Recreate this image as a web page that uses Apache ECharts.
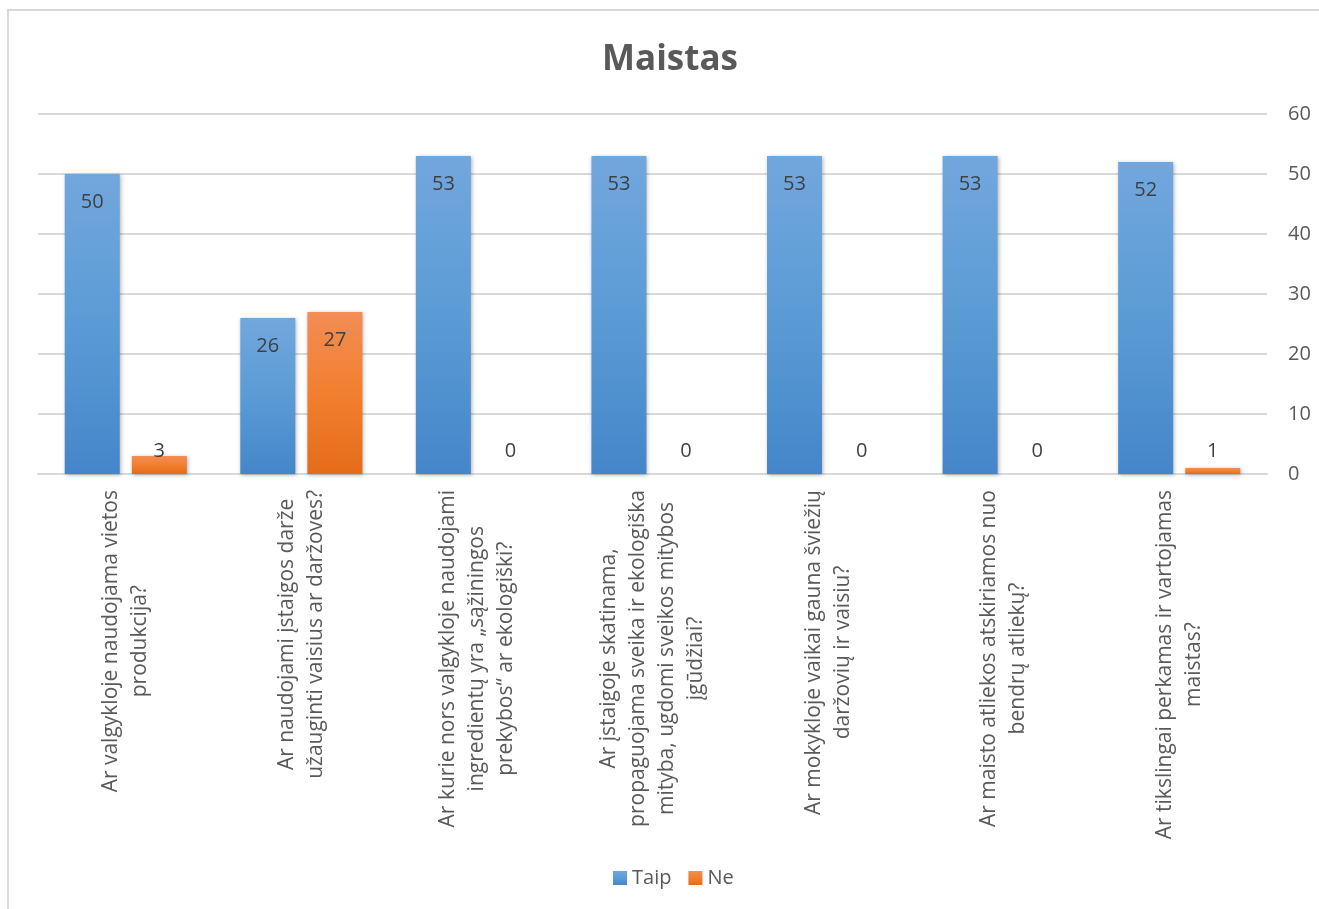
<!DOCTYPE html>
<html>
<head>
<meta charset="utf-8">
<script src="https://cdn.jsdelivr.net/npm/echarts@6/dist/echarts.min.js"></script>
<style>
  html, body { margin: 0; padding: 0; background: #fff; }
  #frame { position: absolute; left: 7px; top: 9px; width: 1330px; height: 920px; border-top: 2px solid #d9d9d9; border-left: 2px solid #d9d9d9; }
  #chart { position: absolute; left: 0; top: 0; width: 1319px; height: 909px; }
</style>
</head>
<body>
<div id="frame"></div>
<div id="chart"></div>
<script>
// klausimai (kategorijos)
var categories = [
  'Ar valgykloje naudojama vietos\nprodukcija?',
  'Ar naudojami įstaigos darže\nužauginti vaisius ar daržoves?',
  'Ar kurie nors valgykloje naudojami\ningredientų yra „sąžiningos\nprekybos“ ar ekologiški?',
  'Ar įstaigoje skatinama,\npropaguojama sveika ir ekologiška\nmityba, ugdomi sveikos mitybos\nįgūdžiai?',
  'Ar mokykloje vaikai gauna šviežių\ndaržovių ir vaisiu?',
  'Ar maisto atliekos atskiriamos nuo\nbendrų atliekų?',
  'Ar tikslingai perkamas ir vartojamas\nmaistas?'
];
var taip = [50, 26, 53, 53, 53, 53, 52];
var ne = [3, 27, 0, 0, 0, 0, 1];
var yTicks = [0, 10, 20, 30, 40, 50, 60];

var FONT = 'Open Sans';

function grad(top, mid, bottom) {
  return new echarts.graphic.LinearGradient(0, 0, 0, 1, [
    { offset: 0, color: top },
    { offset: 0.5, color: mid },
    { offset: 1, color: bottom }
  ]);
}

// mazos reiksmes - etikete virs stulpelio, kitos - viduje virsuje
function withLabels(arr) {
  return arr.map(function (v) {
    if (v < 5) {
      return { value: v, label: { position: 'insideBottom', distance: 13 } };
    }
    return { value: v, label: { position: 'insideTop', distance: 18 } };
  });
}

var barShadow = {
  shadowBlur: 4,
  shadowColor: 'rgba(0,0,0,0.3)',
  shadowOffsetX: 1,
  shadowOffsetY: 1
};

var chart = echarts.init(document.getElementById('chart'));
chart.setOption({
  animation: false,
  title: {
    text: 'Maistas',
    left: 597,
    top: 38,
    textStyle: { fontFamily: FONT, fontSize: 35, fontWeight: 'bold', color: '#595959' }
  },
  legend: {
    top: 863,
    left: 608,
    icon: 'rect',
    itemWidth: 14,
    itemHeight: 14,
    itemGap: 17,
    textStyle: { fontFamily: FONT, fontSize: 20, color: '#595959' },
    data: ['Taip', 'Ne']
  },
  grid: { left: 38, right: 52, top: 114, bottom: 435 },
  xAxis: {
    type: 'category',
    data: categories,
    axisTick: { show: false },
    axisLine: { lineStyle: { color: '#d9d9d9', width: 2 } },
    axisLabel: {
      interval: 0,
      rotate: 90,
      margin: 16,
      formatter: function (v) {
        return v.split('\n').map(function (s) { return '{c|' + s + '}'; }).join('\n');
      },
      rich: {
        c: { align: 'center', fontFamily: FONT, fontSize: 21, lineHeight: 29, color: '#595959' }
      }
    }
  },
  yAxis: {
    type: 'value',
    position: 'right',
    min: yTicks[0],
    max: yTicks[yTicks.length - 1],
    interval: 10,
    axisLine: { show: false },
    axisTick: { show: false },
    splitLine: { lineStyle: { color: '#d9d9d9', width: 2 } },
    axisLabel: { margin: 21, fontFamily: FONT, fontSize: 20, color: '#595959' }
  },
  series: [
    {
      name: 'Taip',
      type: 'bar',
      barWidth: 55,
      barGap: '22%',
      data: withLabels(taip),
      itemStyle: Object.assign({ color: grad('#72a7dd', '#5b9bd5', '#4486c9') }, barShadow),
      label: { show: true, fontFamily: FONT, fontSize: 20, color: '#404040' }
    },
    {
      name: 'Ne',
      type: 'bar',
      barWidth: 55,
      data: withLabels(ne),
      itemStyle: Object.assign({ color: grad('#f28d55', '#f27f2f', '#e46c19') }, barShadow),
      label: { show: true, fontFamily: FONT, fontSize: 20, color: '#404040' }
    }
  ]
});
</script>
</body>
</html>
